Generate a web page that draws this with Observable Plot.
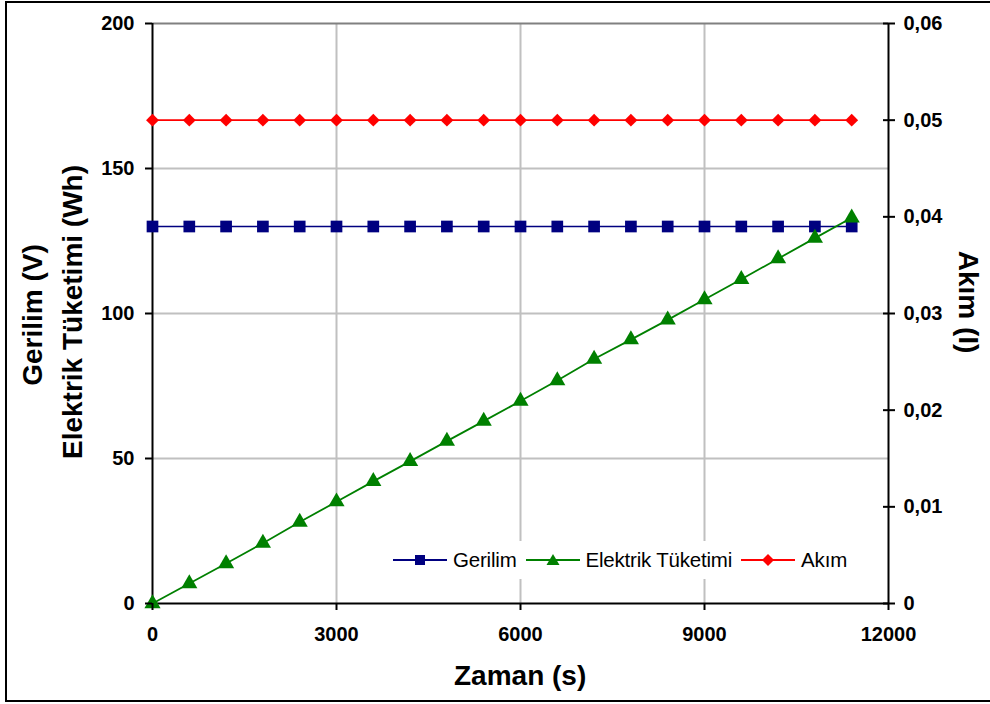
<!DOCTYPE html>
<html>
<head>
<meta charset="utf-8">
<script src="https://cdn.jsdelivr.net/npm/d3@7"></script>
<script src="https://cdn.jsdelivr.net/npm/@observablehq/plot@0.6"></script>
<style>
  html, body { margin: 0; padding: 0; background: #fff; overflow: hidden; }
  #wrap { position: relative; width: 990px; height: 704px; overflow: hidden; font-family: "Liberation Sans", Arial, sans-serif; }
  #frame { position: absolute; left: 5px; top: 1px; width: 1100px; height: 697px; border: 2px solid #000; pointer-events: none; }
  .title { position: absolute; font-weight: bold; font-size: 28px; white-space: nowrap; color: #000; transform-origin: center center; }
  #legend { position: absolute; left: 386px; top: 541px; width: 478px; height: 38px; background: #fff; display: flex; align-items: center; font-size: 20.5px; color: #000; letter-spacing: -0.2px; }
  #legend .item { display: flex; align-items: center; margin-left: 7px; }
  #legend .item span { margin-left: 6px; margin-right: 2px; }
</style>
</head>
<body>
<div id="wrap">
  <div id="chart"></div>
  <div id="legend"></div>
  <div class="title" id="tY1">Gerilim (V)</div>
  <div class="title" id="tY2">Elektrik Tüketimi (Wh)</div>
  <div class="title" id="tY3">Akım (I)</div>
  <div class="title" id="tX">Zaman (s)</div>
  <div id="frame"></div>
</div>
<script>
// ---- data ----
const zaman = [0, 600, 1200, 1800, 2400, 3000, 3600, 4200, 4800, 5400, 6000, 6600, 7200, 7800, 8400, 9000, 9600, 10200, 10800, 11400];
const gerilim = [130, 130, 130, 130, 130, 130, 130, 130, 130, 130, 130, 130, 130, 130, 130, 130, 130, 130, 130, 130];
const elektrik = [0, 6.9, 13.8, 20.8, 28.1, 35.1, 42.1, 49.0, 56.0, 62.9, 69.8, 76.9, 84.3, 91.0, 97.8, 104.8, 111.8, 118.9, 126.0, 133.0];
const akim = [0.05, 0.05, 0.05, 0.05, 0.05, 0.05, 0.05, 0.05, 0.05, 0.05, 0.05, 0.05, 0.05, 0.05, 0.05, 0.05, 0.05, 0.05, 0.05, 0.05];

const xTicks = [0, 3000, 6000, 9000, 12000];
const yTicks = [0, 50, 100, 150, 200];
const rightTicks = [0, 0.01, 0.02, 0.03, 0.04, 0.05, 0.06];
const rightTickLabels = ["0", "0,01", "0,02", "0,03", "0,04", "0,05", "0,06"];
const rightMax = 0.06;
const leftMax = 200;

const seriesNames = ["Gerilim", "Elektrik Tüketimi", "Akım"];
const seriesColors = ["#000080", "#008000", "#ff0000"];
const seriesSymbols = ["square", "triangle", "diamond2"];

// ---- build table ----
const toLeft = v => v / rightMax * leftMax;
const rowsG = zaman.map((t, i) => ({t, v: gerilim[i]}));
const rowsE = zaman.map((t, i) => ({t, v: elektrik[i]}));
const rowsA = zaman.map((t, i) => ({t, v: toLeft(akim[i])}));
const rightScaled = rightTicks.map(toLeft);

const chart = Plot.plot({
  width: 990,
  height: 704,
  marginLeft: 152,
  marginRight: 102,
  marginTop: 23,
  marginBottom: 101,
  style: {fontFamily: "'Liberation Sans', Arial, sans-serif", fontSize: "20px", fontWeight: "bold", background: "transparent", color: "#000"},
  x: {domain: [0, 12000]},
  y: {domain: [0, 200]},
  marks: [
    Plot.gridY(yTicks.filter(d => d > 0 && d < 200), {stroke: "#c0c0c0", strokeOpacity: 1, strokeWidth: 2}),
    Plot.gridX(xTicks.filter(d => d > 0 && d < 12000), {stroke: "#c0c0c0", strokeOpacity: 1, strokeWidth: 2}),
    Plot.ruleY([200], {stroke: "#808080", strokeWidth: 2}),
    Plot.ruleX([0], {stroke: "#000", strokeWidth: 2}),
    Plot.ruleX([12000], {stroke: "#000", strokeWidth: 2}),
    Plot.ruleY([0], {stroke: "#000", strokeWidth: 2}),
    Plot.line(rowsG, {x: "t", y: "v", stroke: seriesColors[0], strokeWidth: 1.6}),
    Plot.line(rowsA, {x: "t", y: "v", stroke: seriesColors[2], strokeWidth: 1.6}),
    Plot.line(rowsE, {x: "t", y: "v", stroke: seriesColors[1], strokeWidth: 1.8}),
    Plot.dot(rowsG, {x: "t", y: "v", symbol: seriesSymbols[0], r: 6.6, fill: seriesColors[0]}),
    Plot.dot(rowsA, {x: "t", y: "v", symbol: seriesSymbols[2], r: 5.8, fill: seriesColors[2]}),
    Plot.dot(rowsE, {x: "t", y: "v", symbol: seriesSymbols[1], r: 6.0, fill: seriesColors[1]}),
    Plot.axisY(yTicks, {anchor: "left", tickSize: 7, tickPadding: 11, strokeWidth: 2, label: null, tickFormat: d => String(d)}),
    Plot.axisX(xTicks, {anchor: "bottom", tickSize: 7, tickPadding: 16, strokeWidth: 2, label: null, tickFormat: d => String(d)}),
    Plot.axisY(rightScaled, {anchor: "right", tickSize: 6, tickPadding: 9, strokeWidth: 2, label: null, tickFormat: (d, i) => rightTickLabels[i]}),
    Plot.axisY(rightScaled, {anchor: "right", tickSize: 6, dx: -6, strokeWidth: 2, label: null, tickFormat: () => ""})
  ]
});
document.getElementById("chart").appendChild(chart);

// ---- legend ----
const legend = document.getElementById("legend");
const markerPaths = {
  square: "M-5,-5h10v10h-10z",
  triangle: "M0,-6L6.5,5H-6.5Z",
  diamond2: "M0,-6L6,0L0,6L-6,0Z"
};
seriesNames.forEach((name, i) => {
  const item = document.createElement("div");
  item.className = "item";
  item.innerHTML = `<svg width="54" height="20" viewBox="-27 -10 54 20"><line x1="-27" x2="27" y1="0" y2="0" stroke="${seriesColors[i]}" stroke-width="1.8"/><path d="${markerPaths[seriesSymbols[i]]}" fill="${seriesColors[i]}"/></svg><span>${name}</span>`;
  legend.appendChild(item);
});

// ---- titles ----
function place(id, cx, cy, rot) {
  const el = document.getElementById(id);
  const w = el.offsetWidth, h = el.offsetHeight;
  el.style.left = (cx - w / 2) + "px";
  el.style.top = (cy - h / 2) + "px";
  if (rot) el.style.transform = `rotate(${rot}deg)`;
}
place("tY1", 33, 315, -90);
place("tY2", 73, 312, -90);
place("tY3", 968, 302, 90);
place("tX", 520, 676, 0);
</script>
</body>
</html>
